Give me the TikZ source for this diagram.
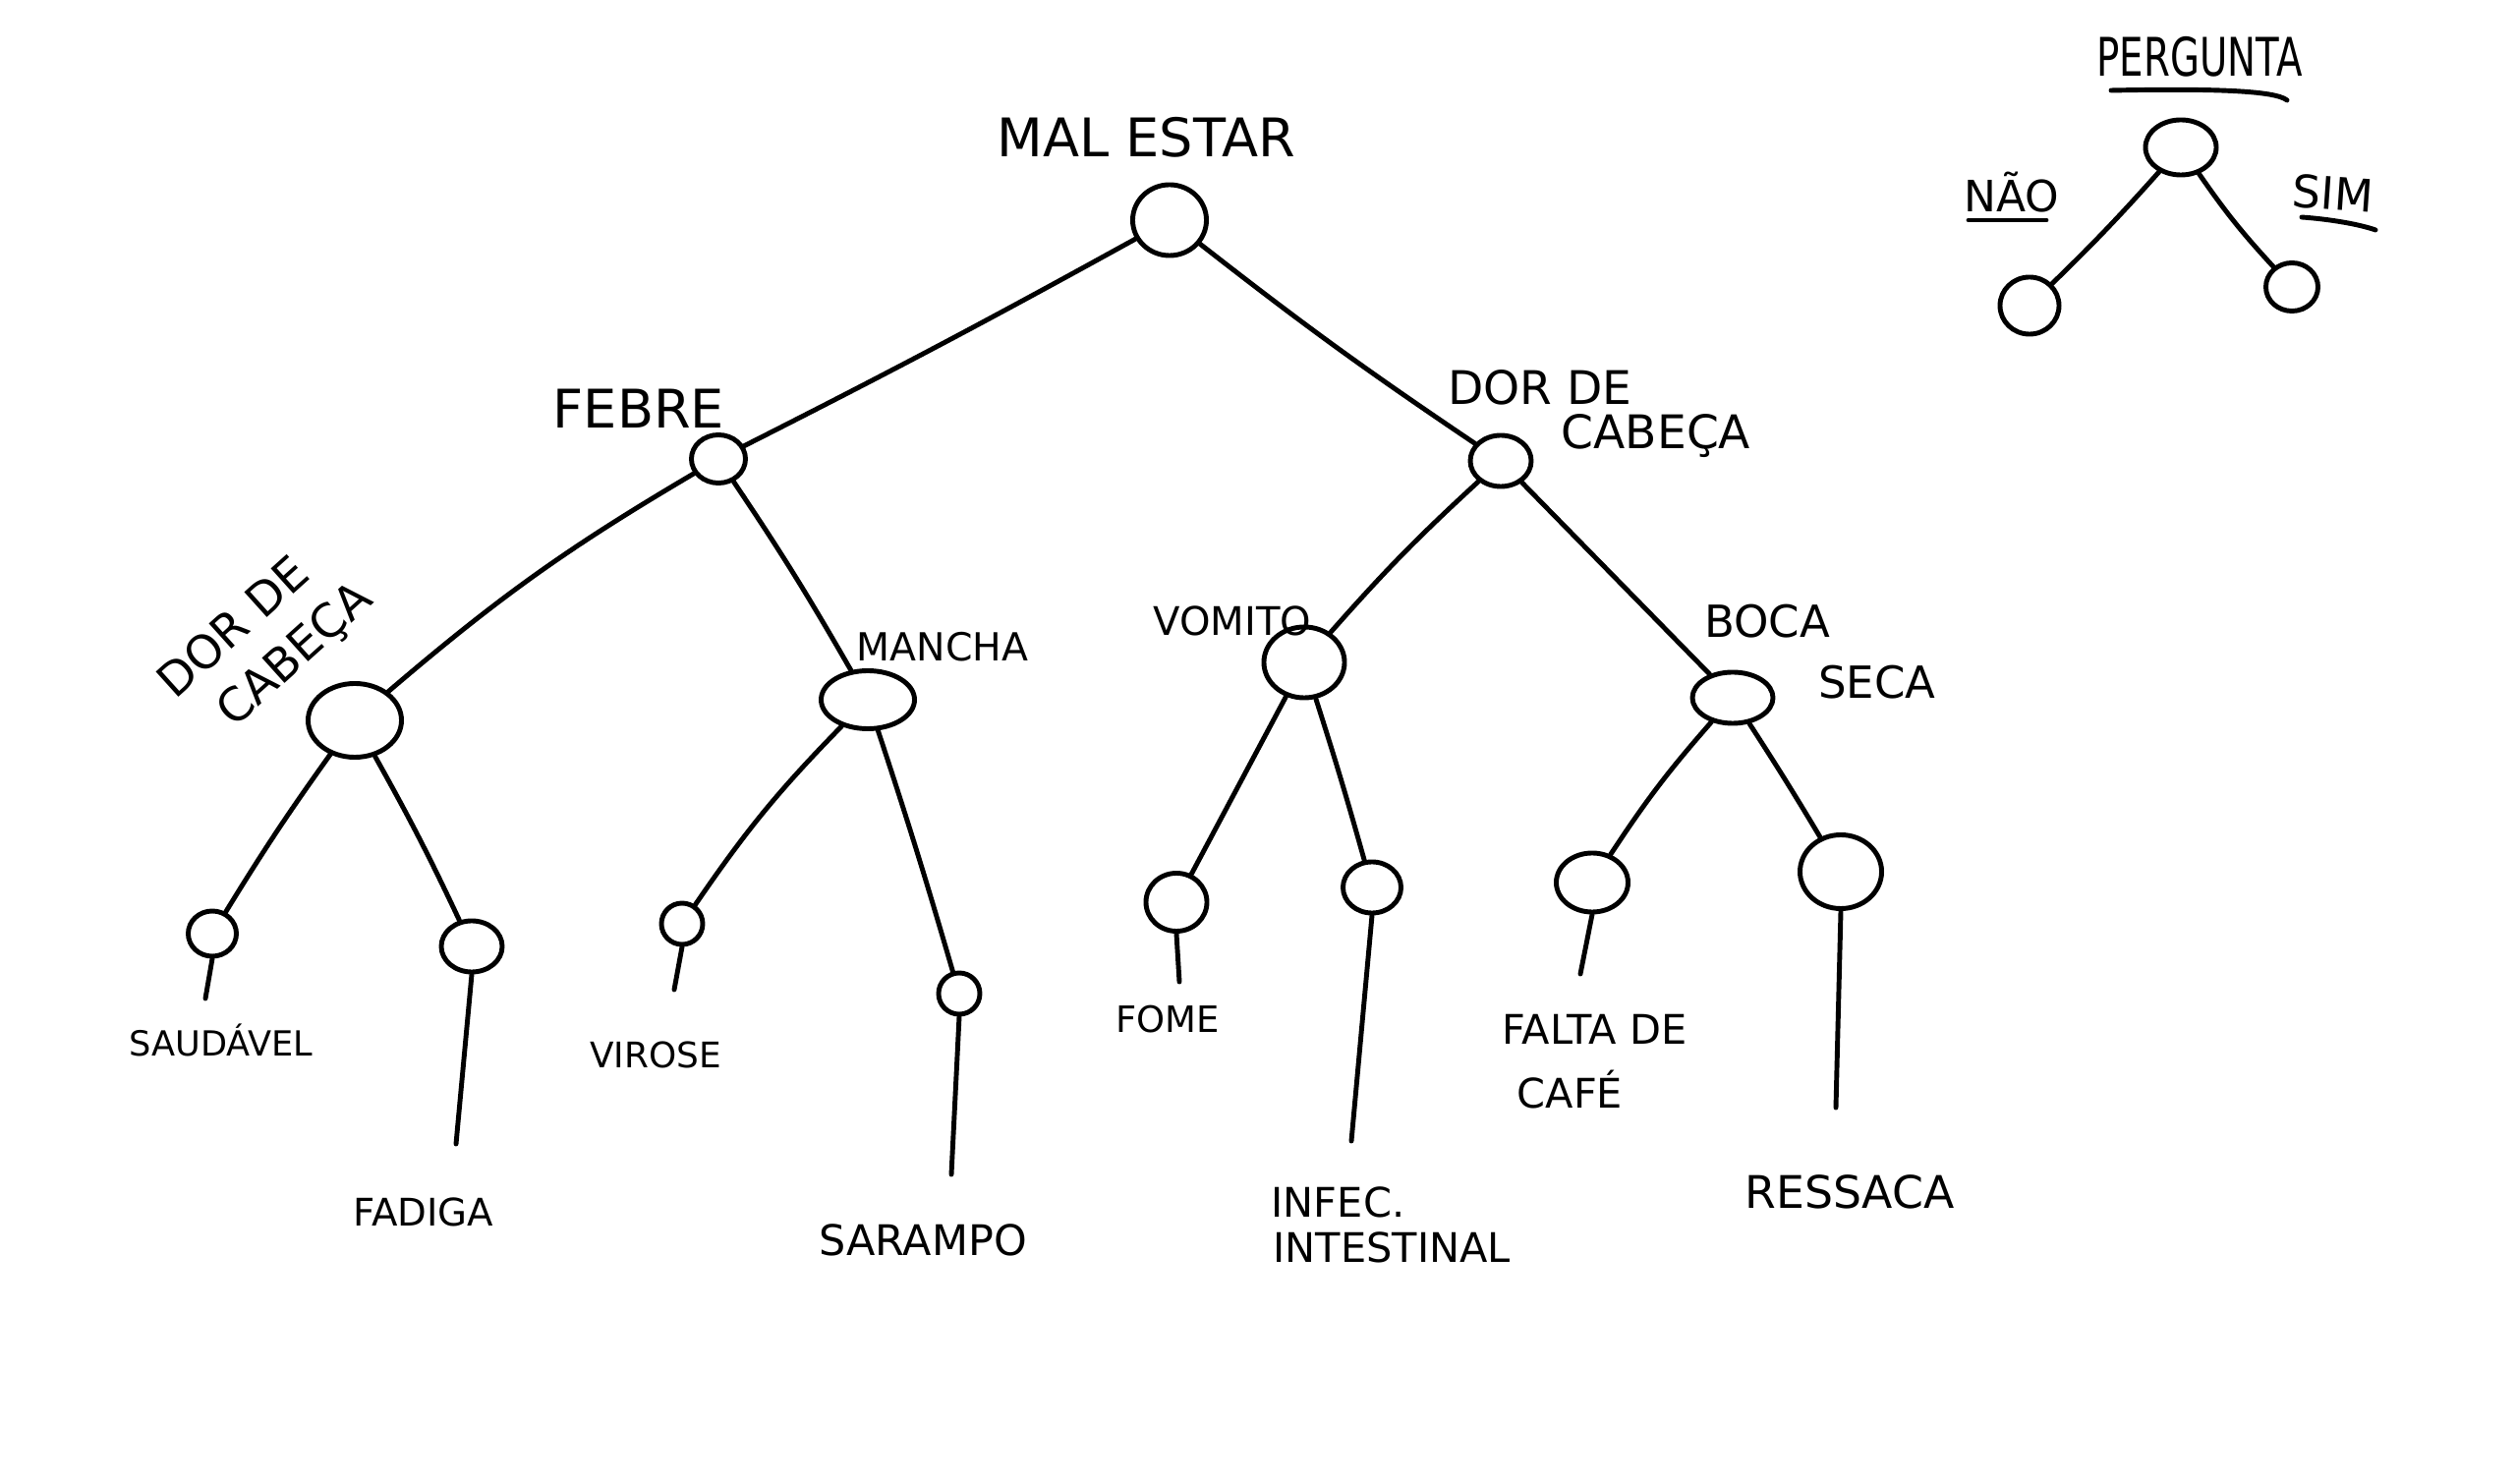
\documentclass[tikz,border=0pt]{standalone}
\usepackage{fontspec}
\usepackage{graphicx}
\setmainfont{DejaVu Sans}
\usetikzlibrary{shapes.geometric}
\begin{document}
\begin{tikzpicture}[x=0.01cm,y=-0.01cm,
  ink/.style={line width=1.4pt, line cap=round, line join=round},
  knot/.style={ink, draw, ellipse, inner sep=0pt},
  txt/.style={inner sep=0pt, font=\fontsize{#1pt}{#1pt}\selectfont}]

% page
\fill[white] (0,0) rectangle (2560,1510);
\useasboundingbox (0,0) rectangle (2560,1510);

% ---------- decision nodes ----------
\node[knot, minimum width=0.75cm, minimum height=0.72cm] (root)    at (1190,224) {};
\node[knot, minimum width=0.55cm, minimum height=0.49cm] (febre)   at (731,467) {};
\node[knot, minimum width=0.62cm, minimum height=0.52cm] (dorA)    at (1527,469) {};
\node[knot, minimum width=0.95cm, minimum height=0.75cm] (dorB)    at (361,733) {};
\node[knot, minimum width=0.95cm, minimum height=0.59cm] (mancha)  at (883,712) {};
\node[knot, minimum width=0.82cm, minimum height=0.72cm] (vomito)  at (1327,674) {};
\node[knot, minimum width=0.82cm, minimum height=0.52cm] (boca)    at (1763,710) {};

% ---------- leaves ----------
\node[knot, minimum width=0.49cm, minimum height=0.46cm] (saud)    at (216,950) {};
\node[knot, minimum width=0.62cm, minimum height=0.52cm] (fadiga)  at (480,963) {};
\node[knot, minimum width=0.42cm, minimum height=0.42cm] (virose)  at (694,940) {};
\node[knot, minimum width=0.42cm, minimum height=0.42cm] (sarampo) at (976,1011) {};
\node[knot, minimum width=0.62cm, minimum height=0.59cm] (fome)    at (1197,918) {};
\node[knot, minimum width=0.59cm, minimum height=0.52cm] (infec)   at (1396,903) {};
\node[knot, minimum width=0.73cm, minimum height=0.60cm] (falta)   at (1620,898) {};
\node[knot, minimum width=0.83cm, minimum height=0.75cm] (ressaca) at (1873,887) {};

% stem ends under the leaves
\coordinate (saudE)    at (209,1016);
\coordinate (fadigaE)  at (464,1164);
\coordinate (viroseE)  at (686,1007);
\coordinate (sarampoE) at (968,1195);
\coordinate (fomeE)    at (1200,999);
\coordinate (infecE)   at (1375,1161);
\coordinate (faltaE)   at (1608,991);
\coordinate (ressacaE) at (1868,1127);

% ---------- branches ----------
\draw[ink] (root) to[bend left=1] (febre);
\draw[ink] (root) to[bend right=2] (dorA);
\draw[ink] (febre) to[bend right=5] (dorB);
\draw[ink] (febre) to[bend left=2] (mancha);
\draw[ink] (dorA) to[bend right=3] (vomito);
\draw[ink] (dorA) to (boca);
\draw[ink] (dorB) to[bend right=2] (saud);
\draw[ink] (dorB) to[bend left=2] (fadiga);
\draw[ink] (mancha) to[bend right=5] (virose);
\draw[ink] (mancha) to[bend left=1] (sarampo);
\draw[ink] (vomito) to (fome);
\draw[ink] (vomito) to[bend left=1] (infec);
\draw[ink] (boca) to[bend right=4] (falta);
\draw[ink] (boca) to[bend left=1] (ressaca);

\draw[ink] (saud.south) -- (saudE);
\draw[ink] (fadiga.south) -- (fadigaE);
\draw[ink] (virose.south) -- (viroseE);
\draw[ink] (sarampo.south) -- (sarampoE);
\draw[ink] (fome.south) -- (fomeE);
\draw[ink] (infec.south) -- (infecE);
\draw[ink] (falta.south) -- (faltaE);
\draw[ink] (ressaca.south) -- (ressacaE);

% ---------- question labels ----------
\node[txt=15.4] (tRoot)  at (1166,140) {MAL ESTAR};
\node[txt=15.4] (tFebre) at (650,416) {FEBRE};
\node[txt=13.4] (tDorA1) at (1567,394) {DOR DE};
\node[txt=13.4] (tDorA2) at (1685,444) {CABEÇA};
\node[txt=13.4, rotate=42, align=left, font=\fontsize{13.4pt}{17.6pt}\selectfont]
  (tDorB) at (271,653) {DOR DE\\\hspace*{0.25cm}CABEÇA};
\node[txt=11.2] (tMancha) at (959,658) {MANCHA};
\node[txt=11.4] (tVomito) at (1254,632) {VOMITO};
\node[txt=12.8] (tBoca)   at (1798,632) {BOCA};
\node[txt=12.8] (tSeca)   at (1910,694) {SECA};

% ---------- outcome labels ----------
\node[txt=10]   (lSaud)    at (225,1058) {SAUDÁVEL};
\node[txt=11]   (lFadiga)  at (431,1233) {FADIGA};
\node[txt=10.2] (lVirose)  at (667,1073) {VIROSE};
\node[txt=12.2] (lSarampo) at (939,1262) {SARAMPO};
\node[txt=10.5] (lFome)    at (1188,1037) {FOME};
\node[txt=11.8, anchor=west] (lInfec1) at (1293,1223) {INFEC.};
\node[txt=11.8, anchor=west] (lInfec2) at (1295,1269) {INTESTINAL};
\node[txt=11.8, anchor=west] (lFalta1) at (1528,1047) {FALTA DE};
\node[txt=11.8, anchor=west] (lFalta2) at (1543,1109) {CAFÉ};
\node[txt=13]   (lRessaca) at (1882,1213) {RESSACA};

% ---------- key ----------
\node[txt=11] (kTitle) at (2238,58) {\scalebox{1}[1.4]{PERGUNTA}};
\node[knot, minimum width=0.72cm, minimum height=0.56cm] (q)  at (2219,150) {};
\node[knot, minimum width=0.60cm, minimum height=0.58cm] (qn) at (2065,311) {};
\node[knot, minimum width=0.53cm, minimum height=0.49cm] (qs) at (2332,292) {};
\draw[ink] (q) to[bend left=2] (qn);
\draw[ink] (q) to[bend right=4] (qs);
\node[txt=12.5] (kNo)  at (2047,196) {NÃO};
\node[txt=13, rotate=-4] (kYes) at (2374,197) {SIM};

\coordinate (uT1) at (2148,92);  \coordinate (uT2) at (2327,102);
\coordinate (uN1) at (2003,224); \coordinate (uN2) at (2082,224);
\coordinate (uS1) at (2342,221); \coordinate (uS2) at (2417,234);
\draw[ink] (uT1) .. controls (2250,90) and (2315,92) .. (uT2);
\draw[ink] (uN1) -- (uN2);
\draw[ink] (uS1) .. controls (2370,223) and (2400,228) .. (uS2);

\end{tikzpicture}
\end{document}
